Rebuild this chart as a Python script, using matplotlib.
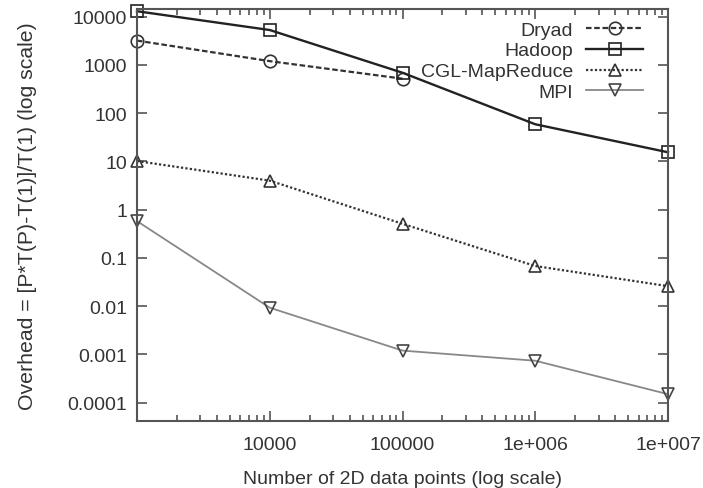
import matplotlib
matplotlib.use("Agg")
import matplotlib.pyplot as plt
from matplotlib.ticker import FixedLocator, FixedFormatter, LogLocator, NullFormatter

plt.rcParams['font.family'] = ['Liberation Sans', 'DejaVu Sans']

# Problem sizes (number of 2D data points)
x_sizes = [1000, 10000, 100000, 1000000, 10000000]

dryad = [3200, 1200, 520]
hadoop = [13000, 5300, 690, 59, 15.5]
cgl_mapreduce = [10.2, 4.0, 0.51, 0.068, 0.026]
mpi = [0.58, 0.0093, 0.0012, 0.00074, 0.00015]

y_ticks = [1e4, 1e3, 1e2, 1e1, 1, 0.1, 0.01, 0.001, 0.0001]
y_tick_labels = ["10000", "1000", "100", "10", "1", "0.1", "0.01", "0.001", "0.0001"]
x_ticks = [10000, 100000, 1000000, 10000000]
x_tick_labels = ["10000", "100000", "1e+006", "1e+007"]

text_color = "#333333"
axis_color = "#555555"

fig = plt.figure(figsize=(7.03, 4.89), dpi=100)
ax = fig.add_axes([137 / 703, 1 - 422 / 489, (668 - 137) / 703, (422 - 10) / 489])

ms = 9
ax.plot(x_sizes[:3], dryad, color="#333333", linestyle=(0, (2.5, 1.2)), linewidth=1.6,
        marker="o", markersize=ms, markerfacecolor="none", markeredgecolor="#333333",
        markeredgewidth=1.2, label="Dryad", clip_on=False)
ax.plot(x_sizes, hadoop, color="#222222", linestyle="-", linewidth=1.7,
        marker="s", markersize=ms, markerfacecolor="none", markeredgecolor="#222222",
        markeredgewidth=1.2, label="Hadoop", clip_on=False)
ax.plot(x_sizes, cgl_mapreduce, color="#333333", linestyle=(0, (1.0, 1.0)), linewidth=1.6,
        marker="^", markersize=ms, markerfacecolor="none", markeredgecolor="#333333",
        markeredgewidth=1.2, label="CGL-MapReduce", clip_on=False)
ax.plot(x_sizes, mpi, color="#888888", linestyle="-", linewidth=1.3,
        marker="v", markersize=ms, markerfacecolor="none", markeredgecolor="#444444",
        markeredgewidth=1.2, label="MPI", clip_on=False)

ax.set_xscale("log")
ax.set_yscale("log")
ax.set_xlim(1000, 1e7)
ax.set_ylim(10 ** -4.38, 10 ** 4.16)

ax.xaxis.set_major_locator(FixedLocator(x_ticks))
ax.xaxis.set_major_formatter(FixedFormatter(x_tick_labels))
ax.xaxis.set_minor_locator(LogLocator(base=10, subs=range(2, 10)))
ax.xaxis.set_minor_formatter(NullFormatter())
ax.yaxis.set_major_locator(FixedLocator(y_ticks))
ax.yaxis.set_major_formatter(FixedFormatter(y_tick_labels))
ax.yaxis.set_minor_locator(FixedLocator([]))

ax.tick_params(axis="both", which="both", direction="in", top=True, right=True,
               colors=axis_color, labelcolor=text_color, labelsize=14, width=1.2)
ax.tick_params(axis="x", which="major", length=7, pad=11)
ax.tick_params(axis="y", which="major", length=7, pad=7)
ax.tick_params(axis="both", which="minor", length=4)

for sp in ax.spines.values():
    sp.set_color(axis_color)
    sp.set_linewidth(1.5)

ax.set_xlabel("Number of 2D data points (log scale)", fontsize=14, color=text_color, labelpad=12)
ax.set_ylabel("Overhead = [P*T(P)-T(1)]/T(1) (log scale)", fontsize=15.3, color=text_color,
              labelpad=22)

leg = ax.legend(loc="upper right", frameon=False, markerfirst=False, fontsize=14,
                handlelength=2.9, handletextpad=0.67, labelspacing=0.17,
                borderaxespad=0.0, bbox_to_anchor=(0.967, 0.99))
for t in leg.get_texts():
    t.set_color(text_color)

fig.savefig("out.png", dpi=100)
